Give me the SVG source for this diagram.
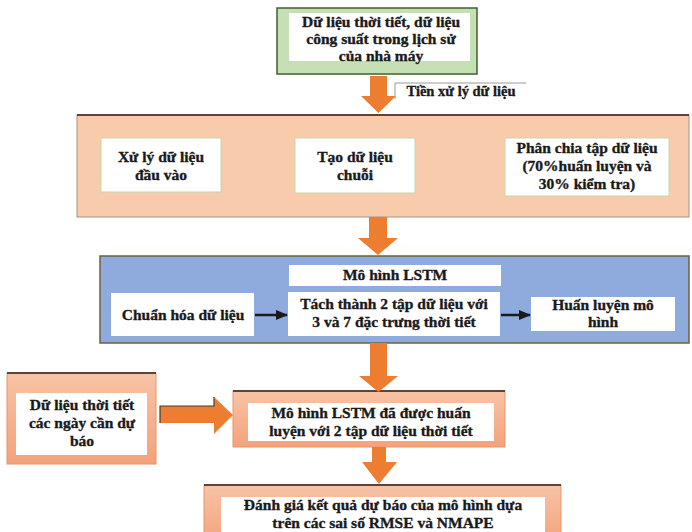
<svg xmlns="http://www.w3.org/2000/svg" width="692" height="532" viewBox="0 0 692 532">
<defs>
<linearGradient id="sal" x1="0" y1="0" x2="0" y2="1">
<stop offset="0" stop-color="#f8c3a5"/>
<stop offset="1" stop-color="#f3a27b"/>
</linearGradient>
<marker id="ah" viewBox="0 0 10 10" refX="9" refY="5" markerWidth="5" markerHeight="5" orient="auto">
<path d="M0,1 L10,5 L0,9 z" fill="#1a1a1a"/>
</marker>
<style>
text{font-family:"Liberation Serif","Times New Roman",serif;font-weight:bold;font-size:15.5px;fill:#1a1a1a;stroke:#1a1a1a;stroke-width:0.35;text-anchor:middle}
.w{fill:#ffffff}
.wb{fill:#ffffff;stroke:#c5d9a8;stroke-width:1}
.sal{fill:url(#sal);stroke:#e8946a;stroke-width:1}
.top{stroke:#5a4636;stroke-width:2}
.oa{fill:#ed7d31}
.ln{stroke:#1a1a1a;stroke-width:2.5;fill:none;marker-end:url(#ah)}
</style>
</defs>
<rect width="692" height="532" fill="#ffffff"/>

<g id="n-source">
<rect x="277" y="8" width="200" height="66" fill="#c5e0b4" stroke="#3f5f2f" stroke-width="1.5"/>
<rect class="w" x="289" y="13" width="181" height="48"/>
<text x="381" y="27">Dữ liệu thời tiết, dữ liệu</text>
<text x="381" y="44">công suất trong lịch sử</text>
<text x="381" y="61">của nhà máy</text>
</g>

<g id="n-preprocess-label">
<rect class="w" x="395" y="83" width="131" height="16"/>
<path d="M395,99 V83 H526" fill="none" stroke="#9a9a9a" stroke-width="1"/>
<text x="461" y="96" style="font-size:14.5px">Tiền xử lý dữ liệu</text>
</g>

<g id="n-preprocess">
<rect x="77" y="115" width="612" height="102" fill="#f8cbad" stroke="#a89080" stroke-width="1"/>
<line class="top" x1="77" y1="115" x2="689" y2="115"/>
</g>
<g id="n-input">
<rect class="wb" x="101" y="138" width="120" height="54"/>
<text x="161" y="162">Xử lý dữ liệu</text>
<text x="161" y="180">đầu vào</text>
</g>
<g id="n-sequence">
<rect class="wb" x="295" y="138" width="120" height="55"/>
<text x="355" y="162">Tạo dữ liệu</text>
<text x="355" y="180">chuỗi</text>
</g>
<g id="n-split">
<rect class="wb" x="505" y="138" width="164" height="58"/>
<text x="587" y="153">Phân chia tập dữ liệu</text>
<text x="587" y="171">(70%huấn luyện và</text>
<text x="587" y="189">30% kiểm tra)</text>
</g>

<g id="n-lstm">
<rect x="100" y="256" width="589" height="87" fill="#8faadc" stroke="#6b6040" stroke-width="1.5"/>
</g>
<g id="n-lstm-title">
<rect class="w" x="289" y="265" width="212" height="21"/>
<text x="395" y="280">Mô hình LSTM</text>
</g>
<g id="n-normalize">
<rect class="w" x="111" y="293" width="143" height="43"/>
<text x="183" y="320">Chuẩn hóa dữ liệu</text>
</g>
<g id="n-separate">
<rect class="w" x="288" y="292" width="212" height="44"/>
<text x="394" y="309">Tách thành 2 tập dữ liệu với</text>
<text x="394" y="327">3 và 7 đặc trưng thời tiết</text>
</g>
<g id="n-train">
<rect class="w" x="531" y="297" width="144" height="34"/>
<text x="603" y="310">Huấn luyện mô</text>
<text x="603" y="327">hình</text>
</g>

<g id="n-forecast-input">
<rect class="sal" x="7" y="373" width="149" height="91"/>
<line class="top" x1="7" y1="373" x2="156" y2="373"/>
<rect class="w" x="16" y="393" width="131" height="62"/>
<text x="82" y="410">Dữ liệu thời tiết</text>
<text x="82" y="428">các ngày cần dự</text>
<text x="82" y="446">báo</text>
</g>

<g id="n-trained">
<rect class="sal" x="233" y="391" width="272" height="56"/>
<line class="top" x1="233" y1="391" x2="505" y2="391"/>
<rect class="w" x="248" y="403" width="246" height="38"/>
<text x="371" y="418">Mô hình LSTM đã được huấn</text>
<text x="371" y="436">luyện với 2 tập dữ liệu thời tiết</text>
</g>

<g id="n-evaluate">
<rect class="sal" x="204" y="485" width="357" height="60"/>
<line class="top" x1="204" y1="485" x2="561" y2="485"/>
<rect class="w" x="221" y="497" width="324" height="40"/>
<text x="383" y="510">Đánh giá kết quả dự báo của mô hình dựa</text>
<text x="383" y="528">trên các sai số RMSE và NMAPE</text>
</g>

<g id="connectors">
<path class="oa" d="M370,76 H387 V96 H396 L378.5,113 L361,96 H370 Z"/>
<path class="oa" d="M369,217 H387 V238 H398 L378,255 L358,238 H369 Z"/>
<path class="oa" d="M370,343 H387 V376 H398 L378.5,392 L359,376 H370 Z"/>
<path class="oa" d="M372,447 H386 V462 H397 L379,484 L362,462 H372 Z"/>
<path class="oa" d="M160,406 H214 V397 L233,415 L214,434 V423 H160 Z"/>
<path d="M160,423 V406 H214 V397" fill="none" stroke="#4a3a30" stroke-width="1.2"/>
<line class="ln" x1="255" y1="315" x2="287" y2="315"/>
<line class="ln" x1="501" y1="315" x2="530" y2="315"/>
</g>
</svg>
